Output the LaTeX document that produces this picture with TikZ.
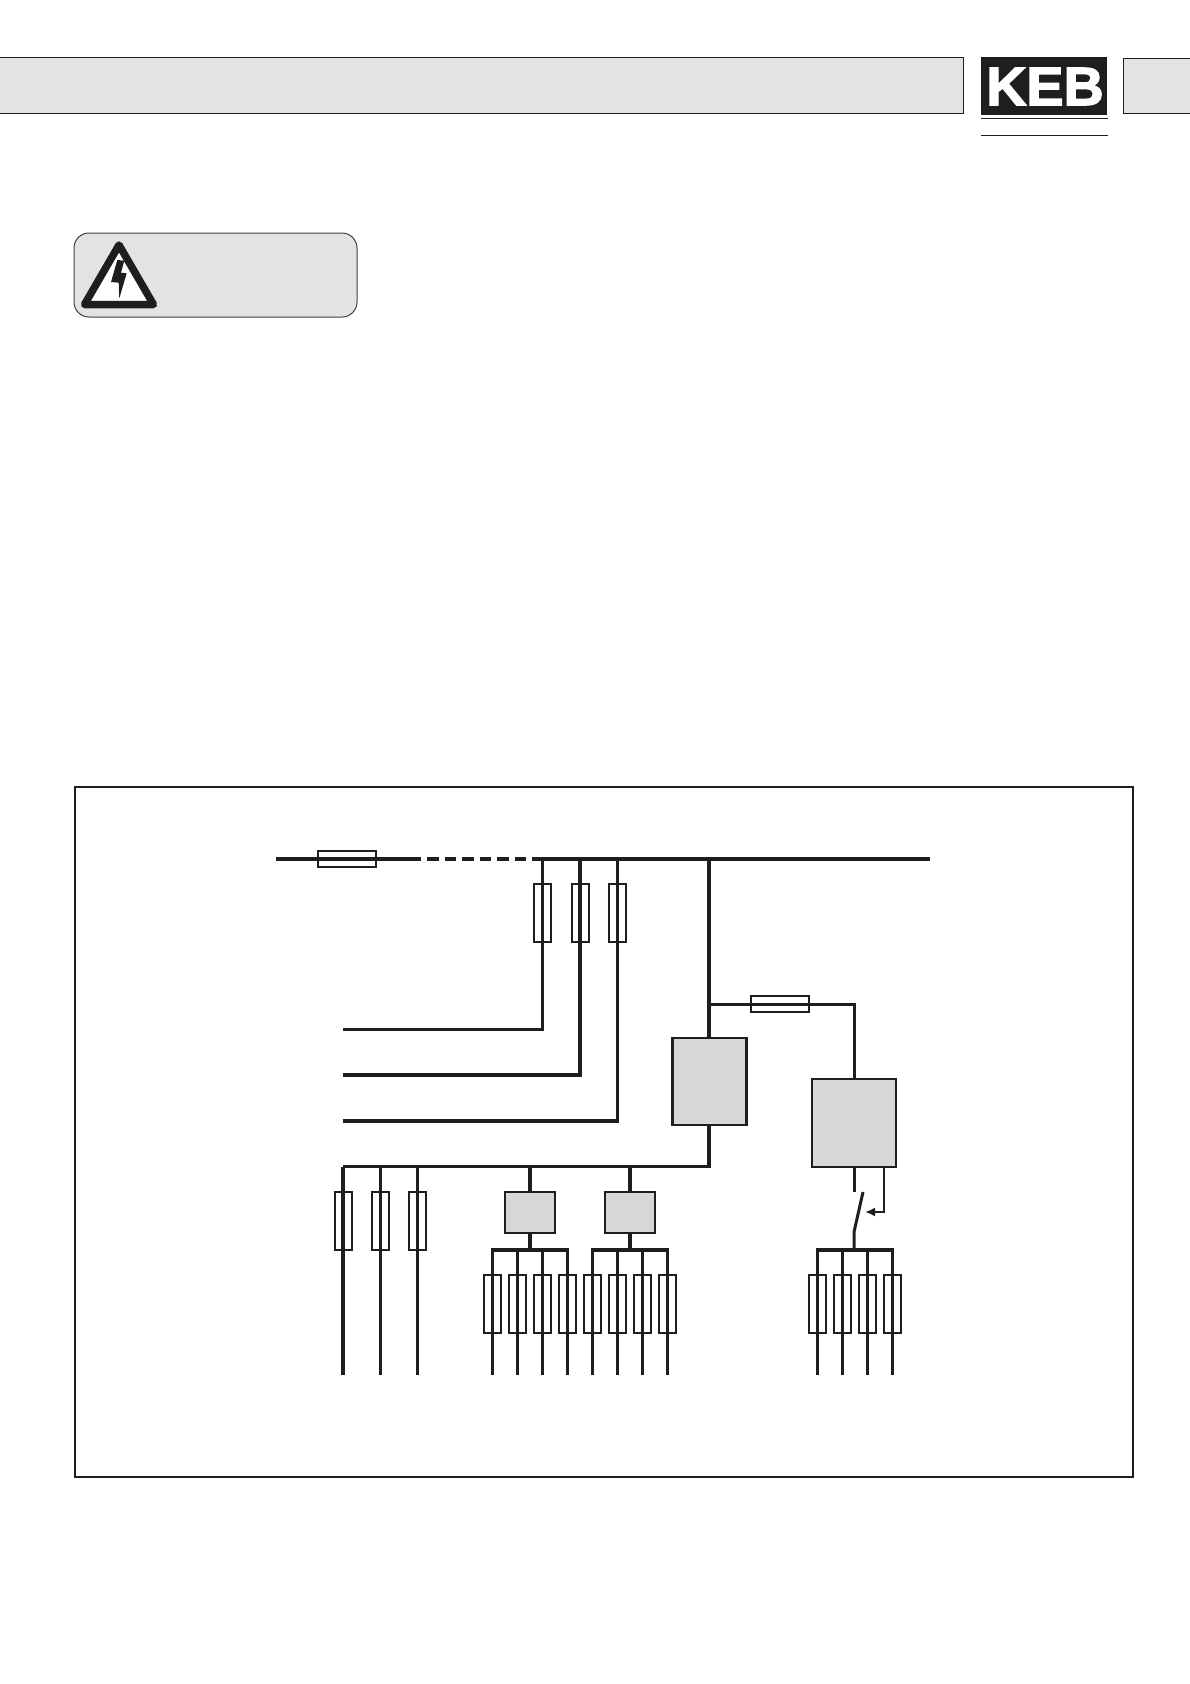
\documentclass[tikz,border=0pt]{standalone}
\usepackage{fontspec}
\setmainfont{Liberation Sans}
\newfontfamily\logofont[FakeBold=2.5]{Liberation Sans Bold}
\usetikzlibrary{arrows.meta,calc}
\definecolor{inkline}{HTML}{1E1E1E}
\definecolor{bargray}{HTML}{E3E3E3}
\definecolor{boxgray}{HTML}{D8D7D5}
\tikzset{
wire/.style={draw=inkline,line width=3pt},
buswire/.style={draw=inkline,line width=4pt},
fusev/.style={draw=inkline,line width=2pt,minimum width=17pt,minimum height=58pt,inner sep=0pt},
fuseh/.style={draw=inkline,line width=2pt,minimum width=58pt,minimum height=16pt,inner sep=0pt},
unitbox/.style={draw=inkline,fill=boxgray,line width=2.4pt,inner sep=0pt},
}
\begin{document}
\begin{tikzpicture}[x=1pt,y=-1pt]
\useasboundingbox (0,0) rectangle (1190,1684);
% header
\draw[inkline,fill=bargray,line width=1pt](-5,57.5)rectangle(963,113);
\draw[inkline,fill=bargray,line width=1pt](1123.5,58)rectangle(1195,113);
\node[fill=inkline,minimum width=126pt,minimum height=58pt,inner sep=0pt](logo) at (1044,86){};
\node[text=white,font=\fontsize{54}{54}\selectfont\logofont,inner sep=0pt,xscale=1.03](logotext) at (1045,86.5){KEB};
\draw[inkline,line width=1pt](981,118)--(1108,118) (981,135)--(1108,135);
% warning sign
\draw[draw=black!75,fill=bargray,line width=1pt,rounded corners=15pt](74,233)rectangle(357,317);
\draw[inkline,fill=white,line width=7.5pt,line join=round](119,245)--(153.5,304.5)--(84.5,304.5)--cycle;
\fill[inkline](117.3,260)--(124.3,260.7)--(121,272.7)--(126.7,273.3)--(119.3,298.3)--(118.7,282.7)--(111,282)--cycle;
% frame
\node[draw=inkline,line width=1.8pt,minimum width=1058pt,minimum height=690pt,inner sep=0pt](frame) at (604,1132){};
% supply bus
\coordinate(busL) at (276,859);
\coordinate(busM) at (421,859);
\coordinate(busN) at (533,859);
\coordinate(busR) at (930,859);
\draw[buswire](busL)--(busM) (busN)--(busR);
\draw[buswire,dash pattern=on 11.5pt off 6pt]($(busM)+(6,0)$)--(busN);
\node[fuseh](fuseIn) at (347,859){};
% branches to the left
\foreach \i/\x/\y/\w in {1/542.5/1029/3,2/580/1075/3.4,3/617.5/1121/3.6}{
\coordinate(top\i) at (\x,859);
\coordinate(lead\i) at (343,\y);
\draw[wire,line width=\w pt,line join=miter](top\i)|-(lead\i);
\node[fusev](fuseTop\i) at (\x,913){};
}
% units
\node[unitbox,minimum width=74pt,minimum height=87pt](unitA) at (709.5,1081.5){};
\node[unitbox,minimum width=84pt,minimum height=88pt](unitB) at (854,1123){};
\coordinate(tapA) at (709,859);
\coordinate(tapB) at (709,1004);
\draw[wire,line width=3.4pt](tapA)--(tapA|-unitA.north);
\draw[wire](tapB)-|(unitB.north);
\node[fuseh](fuseB) at (780,1004){};
% lower bus
\coordinate(lowL) at (343,1166.5);
\draw[wire,line width=3.4pt](tapA|-unitA.south)|-(lowL);
\foreach \i/\x/\w in {1/343/3.6,2/380.5/3,3/417.5/3}{
\coordinate(low\i) at (\x,1166.5);
\coordinate(end\i) at (\x,1375);
\draw[wire,line width=\w pt](low\i)--(end\i);
\node[fusev](fuseLow\i) at (\x,1221){};
}
% two small units
\node[unitbox,minimum width=50pt,minimum height=41pt](unitC) at (530,1212.5){};
\node[unitbox,minimum width=50pt,minimum height=41pt](unitD) at (630,1212.5){};
\foreach \n/\x in {C/530,D/630}{
\coordinate(up\n) at (\x,1166.5);
\draw[wire,line width=3.4pt](up\n)--(unit\n.north);
\coordinate(sub\n) at (\x,1249.5);
\draw[wire,line width=3.4pt](unit\n.south)--(sub\n);
}
\coordinate(subUp) at (854,1249.5);
\coordinate(gapUp) at (854,1192);
\coordinate(bendUp) at (854,1232);
\coordinate(bladeUp) at (863,1192);
\coordinate(ctrlArrow) at (865,1212);
\coordinate(ctrlOut) at (884,1167);
% outgoing groups
\foreach \g/\xa/\xb/\xc/\xd in {a/492.5/517.5/542.5/567.5,b/592.5/617.5/642.5/667.5,c/817/842/867/892}{
\draw[buswire,line cap=butt]($(\xa,1249.5)+(-1.5,0)$)--($(\xd,1249.5)+(1.5,0)$);
\foreach \x [count=\k] in {\xa,\xb,\xc,\xd}{
\coordinate(out\g\k) at (\x,1249.5);
\coordinate(end\g\k) at (\x,1375);
\draw[wire](out\g\k)--(end\g\k);
\node[fusev](fuse\g\k) at (\x,1304){};
}
}
% switch
\draw[wire](unitB.south)--(gapUp);
\draw[wire](subUp)--(bendUp)--(bladeUp);
\draw[draw=inkline,line width=2pt,-{Latex[length=10pt,width=9pt]}](ctrlOut)|-(ctrlArrow);
\end{tikzpicture}
\end{document}
